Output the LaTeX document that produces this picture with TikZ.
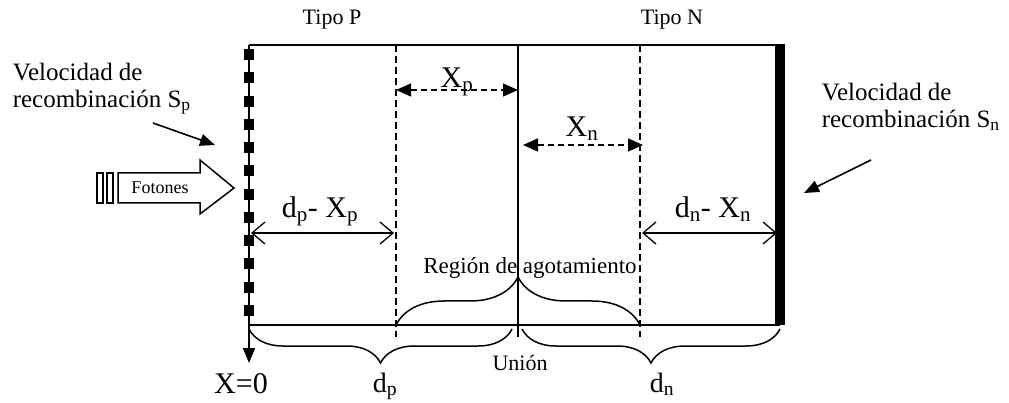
\documentclass[tikz,border=0pt]{standalone}
\usepackage{fontspec}
\setmainfont{Liberation Serif}
\usetikzlibrary{arrows.meta,calc,positioning,decorations.pathreplacing}
\newcommand{\fsz}[2][1.08]{\fontsize{#2}{#1\dimexpr #2pt\relax}\selectfont}
\begin{document}
\begin{tikzpicture}[x=1pt,y=1pt,line width=1.5pt,
  lbl/.style={inner sep=0pt},
  cuadro/.style={fill,minimum width=10pt,minimum height=11pt,inner sep=0pt},
  corte/.style={dash pattern=on 7pt off 4pt,line width=1.3pt},
  cota/.style={{Triangle[length=15pt,width=13pt]}-{Triangle[length=15pt,width=13pt]},dash pattern=on 6pt off 4pt,line width=1.3pt},
  medida/.style={{Straight Barb[length=13pt,width=22pt]}-{Straight Barb[length=13pt,width=22pt]},line width=1.3pt},
  flecha/.style={-{Triangle[length=15pt,width=12pt]},line width=1.6pt},
  llave/.style={decorate,decoration={brace,amplitude=#1}}]
\useasboundingbox (0,0) rectangle (1009,-403);
\coordinate (tl) at (249,-45);
\coordinate (tr) at (780,-45);
\coordinate (bl) at (249,-325);
\coordinate (br) at (780,-325);
\coordinate (x0) at (249,-363);
\coordinate (jt) at (518,-45);
\coordinate (jb) at (518,-337);
\coordinate (pt) at (396,-45);
\coordinate (pb) at (396,-337);
\coordinate (nt) at (640,-45);
\coordinate (nb) at (640,-337);
\draw (tl) -- (tr);
\draw (bl) -- (br);
\draw[flecha] (tl) -- (x0);
\draw[line width=10pt] ([yshift=1pt]tr) -- (br);
\draw (jt) -- (jb);
\draw[corte] (pt) -- (pb);
\draw[corte] (nt) -- (nb);
\foreach \k in {0,...,11}
  \node[cuadro] at (249,{-54.5-23.27*\k}) {};
% fotones
\draw (118,-173) -- (200,-173) -- (200,-160) -- (234,-188) -- (200,-214) -- (200,-203) -- (118,-203) -- cycle;
\draw (97,-173) rectangle (103,-203);
\draw (107,-173) rectangle (113,-203);
\node[lbl,font=\fsz{18}] (foton) at (160,-188) {Fotones};
% textos
\node[lbl,font=\fsz{22}] (tipop) at (332,-20) {Tipo P};
\node[lbl,font=\fsz{22}] (tipon) at (672,-20) {Tipo N};
\node[lbl,font=\fsz{25},align=left,anchor=north west] (vsp) at (12,-62) {Velocidad de\\recombinación S\textsubscript{p}};
\node[lbl,font=\fsz{25},align=left,anchor=north west] (vsn) at (821,-82) {Velocidad de\\recombinación S\textsubscript{n}};
\coordinate (spa) at (153,-123);
\coordinate (spb) at (215,-145);
\coordinate (sna) at (871,-160);
\coordinate (snb) at (804,-193);
\draw[flecha] (spa) -- (spb);
\draw[flecha] (sna) -- (snb);
% cotas
\node[lbl,font=\fsz{30},anchor=base] (xp) at (457,-88) {X\textsubscript{p}};
\node[lbl,font=\fsz{30},anchor=base] (xn) at (582,-137) {X\textsubscript{n}};
\draw[cota] (396,-90) -- (518,-90);
\draw[cota] (523,-145) -- (643,-145);
\node[lbl,font=\fsz{30},anchor=base] (dpxp) at (320,-218) {d\textsubscript{p}- X\textsubscript{p}};
\node[lbl,font=\fsz{30},anchor=base] (dnxn) at (713,-218) {d\textsubscript{n}- X\textsubscript{n}};
\draw[medida] (251,-233) -- (394,-233);
\draw[medida] (642,-233) -- (777,-233);
% llaves
\draw[llave=48pt] (396,-325) -- (640,-325);
\draw[llave=34pt] (512,-329) -- (249,-329);
\draw[llave=34pt] (780,-329) -- (522,-329);
\node[lbl,font=\fsz{23},anchor=base] (region) at (530,-273) {Región de agotamiento};
\node[lbl,font=\fsz{22},anchor=base] (union) at (520,-370) {Unión};
\node[lbl,font=\fsz{30},anchor=base] (xcero) at (241,-393) {X=0};
\node[lbl,font=\fsz{28},anchor=base] (dp) at (385,-392) {d\textsubscript{p}};
\node[lbl,font=\fsz{28},anchor=base] (dn) at (662,-392) {d\textsubscript{n}};
\end{tikzpicture}
\end{document}
